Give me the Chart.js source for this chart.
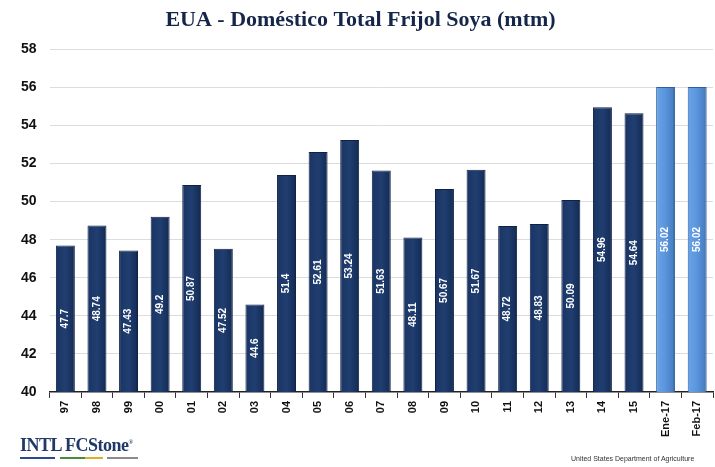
<!DOCTYPE html>
<html>
<head>
<meta charset="utf-8">
<script src="https://cdn.jsdelivr.net/npm/chart.js@4/dist/chart.umd.min.js"></script>
<style>
  body { margin: 0; background: #fff; }
  #wrap { position: relative; width: 715px; height: 467px; }
  #logo { position: absolute; left: 20px; top: 435px; font: bold 18px "Liberation Serif", serif; color: #1f3a66; letter-spacing: -0.5px; }
  #logo sup { font-size: 6px; }
  #logo .bar { display: block; height: 2px; width: 118px; margin-top: 1px;
    background: linear-gradient(to right, #2a4a8a 0 30%, #fff 30% 34%, #4a8a3a 34% 55%, #d9b030 55% 70%, #fff 70% 74%, #8a8a8a 74%); }
  #usda { position: absolute; left: 571px; top: 455px; font: 7px "Liberation Sans Narrow", "Liberation Sans", sans-serif; color: #333; }
</style>
</head>
<body>
<div id="wrap">
  <canvas id="chart" width="715" height="467"></canvas>
  <div id="logo">INTL FCStone<sup>®</sup><span class="bar"></span></div>
  <div id="usda">United States Department of Agriculture</div>
</div>
<script>
const categories = ["97", "98", "99", "00", "01", "02", "03", "04", "05", "06", "07", "08", "09", "10", "11", "12", "13", "14", "15", "Ene-17", "Feb-17"];
const values = [47.7, 48.74, 47.43, 49.2, 50.87, 47.52, 44.6, 51.4, 52.61, 53.24, 51.63, 48.11, 50.67, 51.67, 48.72, 48.83, 50.09, 54.96, 54.64, 56.02, 56.02];
const valueText = ["47.7", "48.74", "47.43", "49.2", "50.87", "47.52", "44.6", "51.4", "52.61", "53.24", "51.63", "48.11", "50.67", "51.67", "48.72", "48.83", "50.09", "54.96", "54.64", "56.02", "56.02"];
const yMin = 40;
const yMax = 58;

function isForecast(i) {
  return categories[i].indexOf("-") > 0;
}

// cylinder-like shading across each bar
function barFill(context) {
  const chart = context.chart;
  const light = isForecast(context.dataIndex);
  if (!chart.chartArea) return light ? "#5a94db" : "#1d3868";
  const x = chart.scales.x.getPixelForValue(context.dataIndex);
  const half = 10;
  const g = chart.ctx.createLinearGradient(x - half, 0, x + half, 0);
  if (light) {
    g.addColorStop(0, "#6aa4ea");
    g.addColorStop(0.5, "#5a94db");
    g.addColorStop(0.85, "#4a80c4");
    g.addColorStop(1, "#2c568e");
  } else {
    g.addColorStop(0, "#1a3463");
    g.addColorStop(0.5, "#203e70");
    g.addColorStop(0.85, "#17305c");
    g.addColorStop(1, "#0c1d3d");
  }
  return g;
}

// white rotated value labels in the middle of each bar
const valueLabels = {
  id: "valueLabels",
  afterDatasetsDraw(chart) {
    const c = chart.ctx;
    const yScale = chart.scales.y;
    const xScale = chart.scales.x;
    const base = yScale.getPixelForValue(yMin);
    c.save();
    c.fillStyle = "#ffffff";
    c.font = "bold 10px 'Liberation Sans Narrow', 'Liberation Sans', Arial, sans-serif";
    c.textAlign = "center";
    c.textBaseline = "middle";
    values.forEach((v, i) => {
      const x = xScale.getPixelForValue(i);
      const top = yScale.getPixelForValue(v);
      c.save();
      c.translate(x, (top + base) / 2);
      c.rotate(-Math.PI / 2);
      c.fillText(valueText[i], 0, 0);
      c.restore();
    });
    c.restore();
  }
};

const ctx = document.getElementById("chart").getContext("2d");
const chart = new Chart(ctx, {
  type: "bar",
  data: {
    labels: categories,
    datasets: [
      {
        data: values,
        backgroundColor: barFill,
        borderColor: categories.map((c, i) => isForecast(i) ? "#2f5f9e" : "#0e2146"),
        borderWidth: 1,
        barPercentage: 0.6,
        categoryPercentage: 1.0,
      },
    ],
  },
  options: {
    responsive: false,
    animation: false,
    layout: { padding: { left: 8, right: 2, top: 0, bottom: 27 } },
    plugins: {
      legend: { display: false },
      tooltip: { enabled: false },
      title: {
        display: true,
        text: "EUA - Doméstico Total Frijol Soya (mtm)",
        color: "#15264a",
        font: { family: "'Liberation Serif', 'Times New Roman', serif", size: 22, weight: "bold" },
        padding: { top: 7, bottom: 16 },
      },
    },
    scales: {
      x: {
        grid: { display: true, drawOnChartArea: false, offset: true, color: "#333", tickLength: 6 },
        border: { color: "#222", width: 1.5 },
        ticks: {
          color: "#111",
          maxRotation: 90,
          minRotation: 90,
          font: { family: "'Liberation Sans', Arial, sans-serif", size: 11, weight: "bold" },
        },
      },
      y: {
        min: yMin,
        max: yMax,
        ticks: {
          stepSize: 2,
          color: "#111",
          padding: 13,
          font: { family: "'Liberation Sans Narrow', 'Liberation Sans', Arial, sans-serif", size: 14, weight: "bold" },
        },
        grid: { color: "#dcdcdc", drawTicks: false },
        border: { display: false },
      },
    },
  },
  plugins: [valueLabels],
});
</script>
</body>
</html>
